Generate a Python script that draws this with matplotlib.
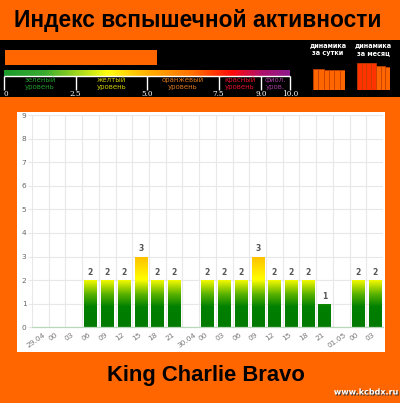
import numpy as np
import matplotlib
matplotlib.use("Agg")
import matplotlib.pyplot as plt
from matplotlib import font_manager
from matplotlib.colors import LinearSegmentedColormap, Normalize
from matplotlib.patches import Rectangle
import matplotlib.patheffects as pe
import matplotlib.transforms as mtransforms

# ---- data -------------------------------------------------------------
time_labels = ["29.04", "00", "03", "06", "09", "12", "15", "18", "21",
               "30.04", "00", "03", "06", "09", "12", "15", "18", "21",
               "01.05", "00", "03"]
flare_index = [0, 0, 0, 2, 2, 2, 3, 2, 2,
               0, 2, 2, 2, 3, 2, 2, 2, 1,
               0, 2, 2]
current_index = 5.3
scale_breaks = [0, 2.5, 5.0, 7.5, 9.0, 10.0]
scale_tick_text = ["0", "2.5", "5.0", "7.5", "9.0", "10.0"]
level_names = ["зеленый\nуровень", "желтый\nуровень", "оранжевый\nуровень",
               "красный\nуровень", "фиол.\nуров."]
level_colors = ["#1f9a2a", "#c9c800", "#d9741c", "#e0102a", "#a03a9a"]
day_trend = [21.5, 21.5, 20, 20, 20, 20]
month_trend = [27, 27, 27.5, 27, 24.5, 24.5, 23]
month_colors = ["#ff3300"] * 4 + ["#ff6600"] * 3

ORANGE = "#ff6600"
W, H = 400, 403

names = {f.name for f in font_manager.fontManager.ttflist}
HEAD_FAMILY = [n for n in ["Liberation Sans Narrow", "Liberation Sans",
                           "DejaVu Sans"] if n in names] or ["DejaVu Sans"]

fig = plt.figure(figsize=(W / 100, H / 100), dpi=100, facecolor=ORANGE)
renderer = fig.canvas.get_renderer()


def frect(x0, y0, x1, y1):
    """figure-fraction rect from pixel box (top-left origin)"""
    return [x0 / W, 1 - y1 / H, (x1 - x0) / W, (y1 - y0) / H]


def fitted_text(cx, cy, s, width_px, **kw):
    """heading text whose size is chosen to span width_px pixels"""
    t = fig.text(cx / W, 1 - cy / H, s, ha="center", va="center",
                 family=HEAD_FAMILY, weight="bold", fontsize=20, **kw)
    w = t.get_window_extent(renderer).width
    t.set_fontsize(20 * width_px / w)
    return t


# ---- title --------------------------------------------------------------
fitted_text(198, 20.5, "Индекс вспышечной активности", 366, color="black")

# ---- black scale band ------------------------------------------------------
px_per_unit = 28.6
band = fig.add_axes(frect(0, 40, 400, 97))
band.set_facecolor("black")
band.axis("off")
band.add_artist(Rectangle((0, 0), 1, 1, transform=band.transAxes,
                          color="black", zorder=0))

# current index bar
band.barh(57.5, current_index, height=15, left=0.04, color=ORANGE, zorder=2)

# colour scale
scale_cmap = LinearSegmentedColormap.from_list("scale", [
    (0.00, "#1c9a2c"), (0.14, "#38aa30"), (0.36, "#ffff10"),
    (0.50, "#ffb000"), (0.66, "#ff7000"), (0.80, "#ff0a0a"),
    (0.90, "#b0106a"), (1.00, "#8c1a8c")])
grad = np.linspace(0, 1, 256).reshape(1, -1)
band.imshow(grad, extent=(0, 10, 75.8, 70), cmap=scale_cmap, aspect="auto",
            zorder=2)
band.hlines(76.2, 0, 10, color="white", lw=1.0, zorder=3)
band.vlines(scale_breaks, 76, 89.5, color="white", lw=1.0, zorder=3)
for b, t in zip(scale_breaks, scale_tick_text):
    band.text(b, 94, t, ha="center" if b > 0 else "left", va="center",
              color="white", fontsize=5.2, family="DejaVu Serif")
for lo, hi, name, c in zip(scale_breaks[:-1], scale_breaks[1:], level_names,
                           level_colors):
    band.text((lo + hi) / 2, 83.5, name, ha="center", va="center", color=c,
              fontsize=5.0, linespacing=1.3)
band.set_xlim(-4 / px_per_unit, 396 / px_per_unit)
band.set_ylim(97, 40)

# trend headings
for cx, txt in [(328, "динамика\nза сутки"), (373, "динамика\nза месяц")]:
    fig.text(cx / W, 1 - 49 / H, txt, ha="center", va="center",
             color="white", fontsize=4.7, fontweight="bold", linespacing=1.25)

# trend bars
for (x0, x1), vals, cols in [((313, 345), day_trend, [ORANGE] * 6),
                             ((357, 390), month_trend, month_colors)]:
    tax = fig.add_axes(frect(x0, 62, x1, 90))
    tax.set_xlim(-0.5, len(vals) - 0.5)
    tax.set_ylim(0, 28)
    tax.axis("off")
    tax.bar(range(len(vals)), vals, width=1.0, color=cols,
            edgecolor="#c84000", linewidth=0.5)

# ---- white chart panel -----------------------------------------------------
fig.patches.append(Rectangle((16.7 / W, 1 - 352 / H), (384.5 - 16.7) / W,
                             (352 - 112) / H, transform=fig.transFigure,
                             facecolor="white", edgecolor="none", zorder=-5))

ax = fig.add_axes(frect(32, 115, 383, 327.3))
ax.set_zorder(2)
ax.set_facecolor("white")
n = len(flare_index)
x = np.arange(n)

ax.set_yticks(range(10))
ax.set_xticks(x)
ax.set_xticks(np.arange(-0.5, n, 1.0), minor=True)
ax.grid(True, which="minor", axis="x", color="#e8e8e8", lw=0.8)
ax.grid(True, which="major", axis="y", color="#e8e8e8", lw=0.8)
ax.set_axisbelow(True)
for s in ["top", "right", "left"]:
    ax.spines[s].set_visible(False)
ax.spines["bottom"].set_color("#b8d8b8")
ax.spines["bottom"].set_linewidth(0.9)
ax.tick_params(axis="y", length=3, color="#e8e8e8", labelsize=5.3,
               labelcolor="#666666", pad=1)
ax.tick_params(axis="x", which="both", length=0, labelsize=5.3,
               labelcolor="#777777", pad=3)
ax.set_xticklabels(time_labels, rotation=35, ha="center", va="top")
shift = mtransforms.ScaledTranslation(-3 / 72, 0, fig.dpi_scale_trans)
for lab in ax.get_xticklabels():
    lab.set_transform(lab.get_transform() + shift)

bar_cmap = LinearSegmentedColormap.from_list("bars", [
    (0.0, "#007a00"), (0.28, "#008000"), (0.45, "#55b000"),
    (0.667, "#ffff00"), (1.0, "#ffbe00")])
bars = ax.bar(x, flare_index, width=0.72, color="none", edgecolor="none")
ygrad = np.linspace(0, 1, 256).reshape(-1, 1)
for b, v in zip(bars, flare_index):
    if v <= 0:
        continue
    im = ax.imshow(ygrad, extent=(b.get_x(), b.get_x() + b.get_width(), 0, 3),
                   origin="lower", cmap=bar_cmap, norm=Normalize(0, 1),
                   aspect="auto", zorder=2)
    im.set_clip_path(b)
    ax.annotate(str(v), (b.get_x() + b.get_width() / 2, v),
                xytext=(0, 5.5), textcoords="offset points", ha="center",
                va="center", fontsize=5.5, fontweight="bold",
                color="#555555")
ax.set_xlim(-0.5, n - 0.5)
ax.set_ylim(0, 9)

# ---- footer ---------------------------------------------------------------
fitted_text(206, 375, "King Charlie Bravo", 198, color="black")
fig.text(366 / W, 1 - 392 / H, "www.kcbdx.ru", ha="center", va="center",
         fontsize=5.8, fontweight="bold", color="white",
         path_effects=[pe.withSimplePatchShadow(offset=(0.8, -0.8),
                                                shadow_rgbFace="#333333",
                                                alpha=0.9)])

fig.savefig("out.png", dpi=100, facecolor=ORANGE)
